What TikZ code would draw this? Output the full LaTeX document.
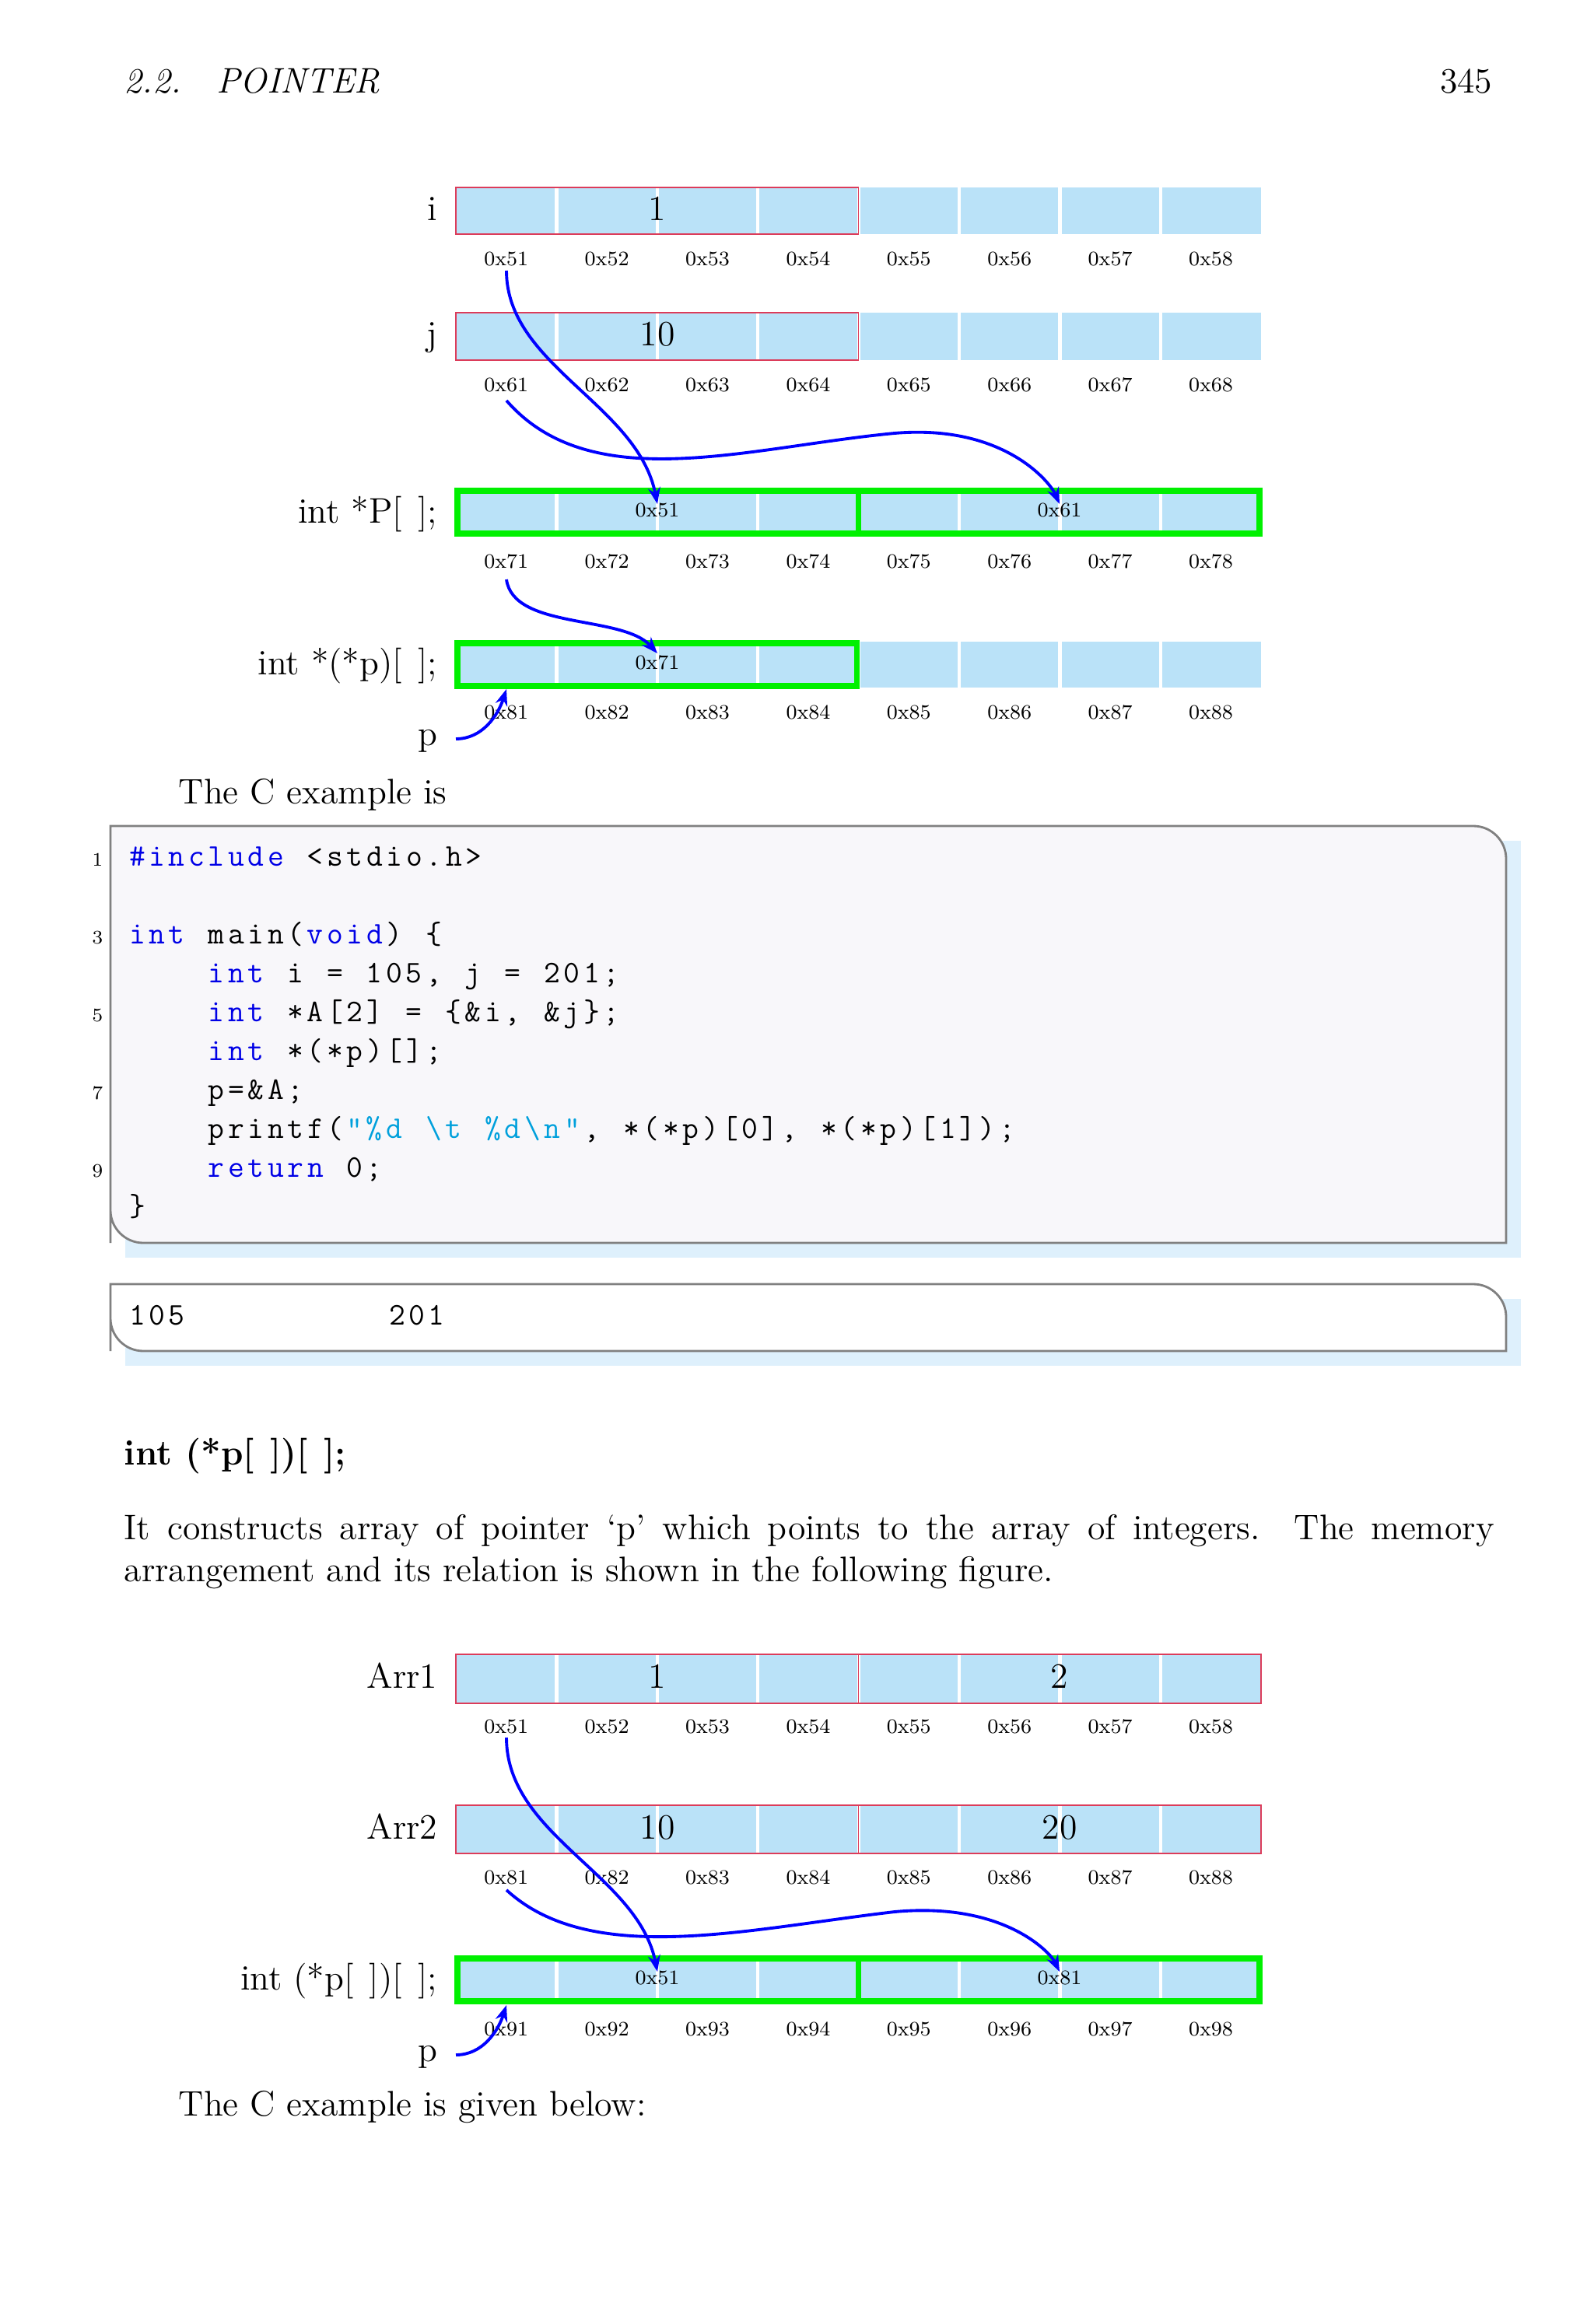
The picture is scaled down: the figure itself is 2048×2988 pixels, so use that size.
\documentclass[tikz,border=0pt]{standalone}
\usepackage{fontspec}
\usetikzlibrary{arrows.meta}
\definecolor{cellb}{RGB}{186,226,248}
\definecolor{kw}{RGB}{0,0,230}
\definecolor{strc}{RGB}{0,160,220}
\definecolor{shad}{RGB}{222,240,252}
\definecolor{codebg}{RGB}{248,247,250}
\definecolor{gr}{RGB}{0,240,0}
\definecolor{rd}{RGB}{220,60,90}
\def\spx#1{\ifx#1\relax\else\makebox[7.25pt]{#1}\expandafter\spx\fi}
\newcommand\cl[4]{\node[anchor=base west,inner sep=0,font=\fontsize{11.5}{13}\ttfamily,text=#4] at (163+#2*25.4,#1) {\spx#3\relax};}
\newcommand\bk{[\,\;]}
\begin{document}
\begin{tikzpicture}[x=0.01cm,y=-0.01cm,
  lab/.style={anchor=base,font=\fontsize{13}{15}\selectfont,inner sep=0},
  addr/.style={anchor=base,font=\fontsize{7.5}{9}\selectfont,inner sep=0},
  arr/.style={blue,line width=1.1pt,-{Stealth[length=6pt]}},
  txt/.style={anchor=base west,font=\fontsize{13}{15}\selectfont,inner sep=0}]
\useasboundingbox[fill=white] (0,0) rectangle (2048,2988);
% header
\node[txt,font=\fontsize{13}{15}\itshape] (hd) at (159,120) {2.2.\quad POINTER};
\node[anchor=base east,inner sep=0,font=\fontsize{13}{15}\selectfont] (pg) at (1919,120) {345};
\newcommand\memrow[5]{%
  \fill[cellb] (586,#1) rectangle (1621,#2);
  \foreach \k in {1,...,7} \draw[white,line width=1.2pt] (586+\k*129.4,#1) -- (586+\k*129.4,#2);
  \foreach \k in {1,...,8} \node[addr] (#5\k) at (586+\k*129.4-64.7,#3+8) {0x#4\k};
}
% diagram 1
\memrow{241}{301}{334}{5}{a}
\draw[rd,line width=0.5pt] (586,241) rectangle (1103.6,301);
\node[lab] (vi) at (845,284) {1};
\node[lab,anchor=base east] (ni) at (563,284) {i};
\memrow{402}{463}{495}{6}{b}
\draw[rd,line width=0.5pt] (586,402) rectangle (1103.6,463);
\node[lab] (vj) at (845,445) {10};
\node[lab,anchor=base east] (nj) at (563,445) {j};
\memrow{629}{688}{722}{7}{c}
\draw[gr,line width=2.2pt] (588,631) rectangle (1103.6,686) (1103.6,631) rectangle (1619,686);
\node[addr] (c51) at (845,664) {0x51};
\node[addr] (c61) at (1362,664) {0x61};
\node[lab,anchor=base east] (nP) at (563,672) {int *P\bk;};
\memrow{825}{884}{916}{8}{d}
\draw[gr,line width=2.2pt] (588,827) rectangle (1101.6,882);
\node[addr] (d71) at (845,860) {0x71};
\node[lab,anchor=base east] (np) at (563,867) {int *(*p)\bk;};
\node[lab,anchor=base east] (p1) at (563,958) {p};
\coordinate (t1) at (845,648);
\coordinate (t2) at (1362,648);
\coordinate (t3) at (845,840);
\coordinate (t4) at (651,886);
\draw[arr] (651,348) .. controls (651,470) and (820,520) .. (t1);
\draw[arr] (651,515) .. controls (760,640) and (960,575) .. (1150,557) .. controls (1290,545) and (1350,620) .. (t2);
\draw[arr] (651,745) .. controls (660,810) and (800,790) .. (t3);
\draw[arr] (586,950) .. controls (620,950) and (640,920) .. (t4);
\node[txt] (ce1) at (229,1033) {The C example is};
% code box
\fill[shad] (161,1081) rectangle (1955,1617);
\draw[gray,line width=0.8pt,fill=codebg] (142,1598) -- (142,1062) [rounded corners=12pt] -- (1936,1062) [sharp corners] -- (1936,1598) [rounded corners=12pt] -- (142,1598) [sharp corners] -- cycle;
\foreach \n/\yy in {1/1113,3/1213,5/1313,7/1413,9/1513}
  \node[anchor=base east,inner sep=0,font=\fontsize{7}{8}\selectfont] at (133,\yy) {\n};
\cl{1113}{0}{\#include}{kw}
\cl{1113}{9}{<stdio.h>}{black}
\cl{1213}{0}{int}{kw}
\cl{1213}{4}{main(}{black}
\cl{1213}{9}{void}{kw}
\cl{1213}{13}{)}{black}
\cl{1213}{15}{\{}{black}
\cl{1263}{4}{int}{kw}
\cl{1263}{8}{i}{black}
\cl{1263}{10}{=}{black}
\cl{1263}{12}{105,}{black}
\cl{1263}{17}{j}{black}
\cl{1263}{19}{=}{black}
\cl{1263}{21}{201;}{black}
\cl{1313}{4}{int}{kw}
\cl{1313}{8}{*A[2]}{black}
\cl{1313}{14}{=}{black}
\cl{1313}{16}{\{\&i,}{black}
\cl{1313}{21}{\&j\};}{black}
\cl{1363}{4}{int}{kw}
\cl{1363}{8}{*(*p)[];}{black}
\cl{1413}{4}{p=\&A;}{black}
\cl{1463}{4}{printf(}{black}
\cl{1463}{11}{"\%d}{strc}
\cl{1463}{15}{\textbackslash t}{strc}
\cl{1463}{18}{\%d\textbackslash n"}{strc}
\cl{1463}{23}{,}{black}
\cl{1463}{25}{*(*p)[0],}{black}
\cl{1463}{35}{*(*p)[1]);}{black}
\cl{1513}{4}{return}{kw}
\cl{1513}{11}{0;}{black}
\cl{1563}{0}{\}}{black}
% output box
\fill[shad] (161,1670) rectangle (1955,1756);
\draw[gray,line width=0.8pt,fill=white] (142,1737) -- (142,1651) [rounded corners=12pt] -- (1936,1651) [sharp corners] -- (1936,1737) [rounded corners=12pt] -- (142,1737) [sharp corners] -- cycle;
\node[anchor=base west,inner sep=0,font=\fontsize{11.5}{13}\ttfamily] (o1) at (163,1703) {\spx105\relax};
\node[anchor=base west,inner sep=0,font=\fontsize{11.5}{13}\ttfamily] (o2) at (497,1703) {\spx201\relax};
% text
\node[txt,font=\fontsize{13}{15}\bfseries] (h2) at (159,1883) {int (*p\bk)\bk;};
\node[anchor=north west,inner sep=0,text width=17.6cm,align=justify,font=\fontsize{13}{15.2}\selectfont] (par) at (159,1947)
 {It constructs array of pointer `p' which points to the array of integers.\ \ The memory arrangement and its relation is shown in the following figure.};
% diagram 2
\memrow{2127}{2190}{2220}{5}{e}
\draw[rd,line width=0.5pt] (586,2127) rectangle (1103.6,2190) (1103.6,2127) rectangle (1621,2190);
\node[lab] (v1) at (845,2170) {1};
\node[lab] (v2) at (1362,2170) {2};
\node[lab,anchor=base east] (na1) at (563,2170) {Arr1};
\memrow{2321}{2383}{2414}{8}{f}
\draw[rd,line width=0.5pt] (586,2321) rectangle (1103.6,2383) (1103.6,2321) rectangle (1621,2383);
\node[lab] (v3) at (845,2364) {10};
\node[lab] (v4) at (1362,2364) {20};
\node[lab,anchor=base east] (na2) at (563,2364) {Arr2};
\memrow{2516}{2575}{2609}{9}{g}
\draw[gr,line width=2.2pt] (588,2518) rectangle (1103.6,2573) (1103.6,2518) rectangle (1619,2573);
\node[addr] (g51) at (845,2551) {0x51};
\node[addr] (g81) at (1362,2551) {0x81};
\node[lab,anchor=base east] (nq) at (563,2558) {int (*p\bk)\bk;};
\node[lab,anchor=base east] (p2) at (563,2650) {p};
\coordinate (s1) at (845,2535);
\coordinate (s2) at (1362,2535);
\coordinate (s4) at (651,2578);
\draw[arr] (651,2234) .. controls (651,2360) and (820,2410) .. (s1);
\draw[arr] (651,2430) .. controls (760,2530) and (960,2480) .. (1150,2458) .. controls (1290,2445) and (1350,2510) .. (s2);
\draw[arr] (586,2642) .. controls (620,2642) and (640,2612) .. (s4);
\node[txt] (ce2) at (229,2720) {The C example is given below:};
\end{tikzpicture}
\end{document}
